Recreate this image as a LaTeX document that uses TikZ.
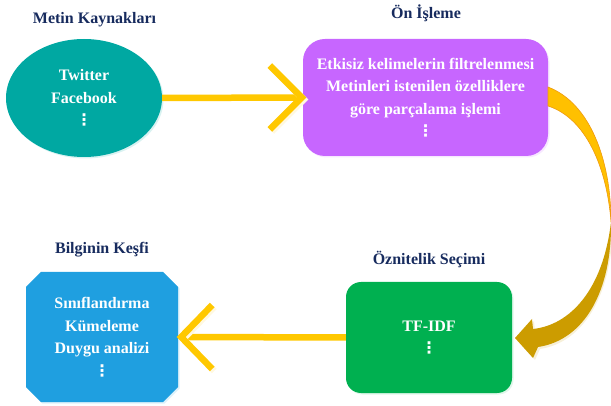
\documentclass[tikz,border=0pt]{standalone}
\usepackage{fontspec}
\setmainfont{Liberation Serif}
\newfontfamily\djv{DejaVu Sans}
\usetikzlibrary{shapes.geometric,calc,shadows}
\definecolor{navy}{HTML}{172B5E}
\definecolor{tealc}{HTML}{00A8A2}
\definecolor{purp}{HTML}{C766FF}
\definecolor{grn}{HTML}{00B050}
\definecolor{blu}{HTML}{1F9FE0}
\definecolor{yel}{HTML}{FFC800}
\definecolor{goldA}{HTML}{FFC000}
\definecolor{goldB}{HTML}{CC9C00}
\definecolor{goldedge}{HTML}{EE9A10}
\newcommand\vdts{{\djv\bfseries ⋮}}
\begin{document}
\begin{tikzpicture}[x=1pt,y=-1pt,
  ttl/.style={font=\fontsize{16}{19}\selectfont\bfseries, text=navy, anchor=base, inner sep=0},
  txt/.style={font=\fontsize{16}{22.5}\selectfont\bfseries, text=white, align=center, inner sep=0},
  halo/.style={drop shadow={shadow xshift=1.5pt, shadow yshift=-1.5pt, fill=#1, opacity=1}},
  yline/.style={draw=yel, line width=6.5pt},
  chev/.style={draw=yel, line width=6.5pt, line join=miter, line cap=butt,
    preaction={draw=yel!12, line width=6.5pt, transform canvas={shift={(2pt,-2pt)}}}}]
\useasboundingbox (0,0) rectangle (611,406);

% titles
\node[ttl] (t1) at (94.5,24) {Metin Kaynakları};
\node[ttl] (t2) at (426,19) {Ön İşleme};
\node[ttl] (t3) at (429,265) {Öznitelik Seçimi};
\node[ttl] (t4) at (102,254) {Bilginin Keşfi};

% shapes
\node[txt, ellipse, fill=tealc, halo=tealc!15, minimum width=156pt, minimum height=118pt]
  (src) at (84,98) {Twitter\\Facebook\\\vdts};
\node[txt, rectangle, rounded corners=22pt, fill=purp, halo=purp!15,
  minimum width=245pt, minimum height=117pt]
  (pre) at (425.5,97.5) {Etkisiz kelimelerin filtrelenmesi\\Metinleri istenilen özelliklere\\göre parçalama işlemi\\\vdts};
\node[txt, rectangle, rounded corners=15pt, fill=grn, halo=grn!12,
  minimum width=166pt, minimum height=111pt]
  (feat) at (429,337.5) {TF-IDF\\\vdts};
% octagon (Bilginin Keşfi)
\fill[blu!15] (42.5,273.5) -- (164.5,273.5) -- (179.5,288.5) -- (179.5,388.5) -- (164.5,403.5) -- (42.5,403.5) -- (27.5,388.5) -- (27.5,288.5) -- cycle;
\fill[blu] (41,272) -- (163,272) -- (178,287) -- (178,387) -- (163,402) -- (41,402) -- (26,387) -- (26,287) -- cycle;
\node[txt, rectangle, minimum width=152pt, minimum height=130pt]
  (know) at (102,337) {Sınıflandırma\\Kümeleme\\Duygu analizi\\\vdts};

% straight arrows
\draw[yline] (src.east) -- ([xshift=-1pt]pre.west);
\draw[chev] ($(pre.west)+(-33,-32)$) -- ([xshift=-1pt]pre.west) -- ($(pre.west)+(-33,32)$);
\draw[yline] (feat.west) -- ([xshift=3pt]know.east);
\draw[chev] ($(know.east)+(34,-32)$) -- ([xshift=3pt]know.east) -- ($(know.east)+(34,32)$);

% curved arrow from pre to feat
\coordinate (ca) at (548,87);
\coordinate (cb) at (548,106);
\coordinate (cm) at (611,222);
\coordinate (tip) at (515,338);
\fill[goldB!15] ([shift={(1.5,1.5)}]cm) .. controls (613,290) and (586,342) .. (540,349)
  -- (535,360) -- (517,340) -- (534,321) -- (535,331)
  .. controls (572,327) and (605,292) .. ([shift={(1.5,1.5)}]cm) -- cycle;
\fill[goldB] (cm) .. controls (612,290) and (585,340) .. (538,347)
  -- (533,358) -- (tip) -- (532,319) -- (533,329)
  .. controls (570,325) and (603,290) .. (cm) -- cycle;
\filldraw[fill=goldA, draw=goldedge, line width=0.6pt] (ca) .. controls (590,103) and (611,160) .. (cm)
  .. controls (607,168) and (586,118) .. (cb) -- cycle;
\end{tikzpicture}
\end{document}
